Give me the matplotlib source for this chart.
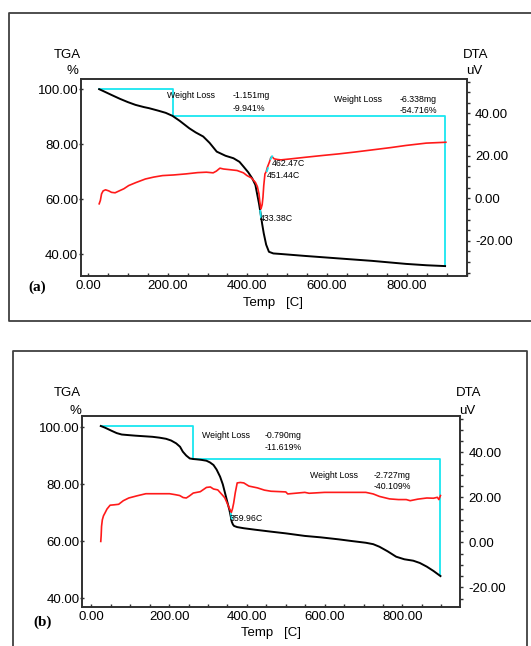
import matplotlib
matplotlib.use("Agg")
import matplotlib.pyplot as plt
from matplotlib.lines import Line2D
from matplotlib.ticker import MultipleLocator, FormatStrFormatter

plt.rcParams['font.family'] = ['Liberation Sans', 'DejaVu Sans']

W, H = 531, 646

# ---------------- data: panel (a) ----------------
tga_a_T = [28, 40, 59, 80, 100, 119, 140, 153, 176, 195, 212, 230, 254, 270, 289, 305, 323, 345,
           365, 380, 390, 402, 412, 420, 424, 429, 433, 437, 441, 447, 454, 465, 484, 544, 628,
           713, 798, 850, 896]
tga_a = [100, 99.2, 97.9, 96.5, 95.3, 94.3, 93.5, 93.1, 92.2, 91.4, 90.3, 88.5, 85.8, 84.3, 82.8,
         80.5, 77.3, 75.8, 74.9, 73.6, 71.9, 69.8, 67.6, 65.2, 62.2, 58.5, 54.9, 51.0, 47.6, 43.5,
         40.9, 40.3, 40.1, 39.4, 38.5, 37.6, 36.5, 36.0, 35.7]
dta_a_T = [28, 31, 34, 38, 44, 52, 59, 68, 76, 90, 102, 120, 144, 165, 187, 215, 246, 275, 297,
           314, 322, 331, 340, 355, 374, 390, 399, 410, 420, 425, 429, 431, 434, 437, 439, 441,
           444, 447, 450, 455, 459, 462, 467, 475, 484, 510, 544, 590, 628, 670, 713, 760, 798,
           849, 898]
dta_a = [-2.6, -1, 2.1, 3.5, 4.0, 3.5, 2.8, 2.6, 3.3, 4.5, 6.0, 7.4, 9.1, 10.0, 10.7, 11.0, 11.5,
         12.1, 12.3, 12.0, 12.8, 14.2, 13.8, 13.5, 13.1, 12.0, 10.7, 9.6, 7.5, 5.5, 2.1, -1.5,
         -5.0, -3.0, 0.5, 6.0, 11.5, 12.5, 14.6, 17.0, 19.3, 19.6, 18.6, 18.3, 18.1, 18.6, 19.3,
         20.2, 20.9, 21.8, 22.8, 23.9, 24.9, 26.0, 26.4]
step_a_T = [28, 214, 214, 896, 896]
step_a = [100.2, 100.2, 90.2, 90.2, 35.7]
loss_a = [("Weight Loss", "-1.151mg", "-9.941%"), ("Weight Loss", "-6.338mg", "-54.716%")]
peaks_a = ["462.47C", "451.44C", "433.38C"]

# ---------------- data: panel (b) ----------------
tga_b_T = [24, 35, 52, 65, 78, 95, 113, 135, 157, 175, 192, 205, 218, 228, 235, 244, 253, 262,
           270, 283, 296, 305, 314, 322, 331, 338, 344, 350, 355, 358, 361, 364, 367, 375, 392,
           420, 462, 500, 549, 590, 636, 670, 706, 725, 741, 762, 784, 805, 828, 845, 863, 880,
           898]
tga_b = [100.5, 99.9, 98.8, 98.0, 97.5, 97.3, 97.1, 96.9, 96.7, 96.4, 96.0, 95.4, 94.4, 93.2,
         91.5, 90.1, 89.1, 88.9, 88.8, 88.6, 88.3, 87.7, 86.8, 85.2, 82.7, 80.0, 76.8, 73.6, 71.0,
         69.0, 66.9, 65.9, 65.4, 65.0, 64.6, 64.1, 63.4, 62.8, 61.9, 61.4, 60.7, 60.1, 59.5, 59.0,
         58.1, 56.5, 54.6, 53.7, 53.2, 52.4, 51.1, 49.6, 47.8]
dta_b_T = [24, 25, 26, 28, 31, 35, 40, 48, 60, 70, 82, 96, 118, 140, 170, 201, 215, 227, 236,
           244, 252, 262, 280, 296, 306, 314, 325, 336, 343, 349, 355, 360, 363, 366, 370, 375,
           383, 392, 405, 427, 445, 462, 500, 505, 549, 560, 600, 636, 680, 706, 725, 741, 767,
           790, 810, 820, 840, 863, 880, 890, 894, 898]
dta_b = [0.4, 3.0, 7.1, 10.0, 11.8, 13.1, 14.8, 16.5, 16.7, 16.9, 18.5, 19.7, 20.7, 21.6, 21.6,
         21.6, 21.2, 20.8, 19.9, 19.7, 20.6, 21.9, 22.5, 24.4, 24.6, 23.7, 23.3, 21.2, 19.8, 17.5,
         15.0, 13.3, 15.0, 17.5, 22.0, 26.4, 26.6, 26.4, 25.0, 24.2, 23.2, 22.7, 22.4, 21.5, 22.2,
         21.8, 22.2, 22.2, 22.2, 22.2, 21.5, 20.4, 19.3, 19.0, 19.0, 18.5, 19.2, 19.7, 19.6, 20.0,
         19.0, 20.8]
step_b_T = [24, 261, 261, 896, 896]
step_b = [100.5, 100.5, 89.0, 89.0, 48.2]
loss_b = [("Weight Loss", "-0.790mg", "-11.619%"), ("Weight Loss", "-2.727mg", "-40.109%")]
peaks_b = ["359.96C"]

x_ticks = [0, 200, 400, 600, 800]
tga_ticks = [40, 60, 80, 100]
dta_ticks = [-20, 0, 20, 40]

fig = plt.figure(figsize=(W / 100, H / 100), dpi=100)
fig.patch.set_facecolor('white')


def fx(px):
    return px / W


def fy(py):
    return 1 - py / H


def ftext(px, py, s, size=6.3, ha='left', va='center', **kw):
    fig.text(fx(px), fy(py), s, fontsize=size, ha=ha, va=va, **kw)


def fline(xs, ys):
    fig.lines.append(Line2D([fx(v) for v in xs], [fy(v) for v in ys], transform=fig.transFigure,
                            color='#404040', lw=1.3))


# outer frames (open where the picture crops them)
fline([560, 9, 9, 560], [12.5, 12.5, 321, 321])
fline([12.5, 12.5, 526.7, 526.7], [700, 351.5, 351.5, 700])

spine_c = '#303030'


def make_axes(rect, xlim, ylim, y2lim):
    ax = fig.add_axes(rect)
    ax2 = ax.twinx()
    ax.set_xlim(*xlim)
    ax.set_ylim(*ylim)
    ax2.set_ylim(*y2lim)
    for a in (ax, ax2):
        for s in a.spines.values():
            s.set_color(spine_c)
            s.set_linewidth(1.2)
    ax.set_xticks(x_ticks)
    ax.xaxis.set_minor_locator(MultipleLocator(50))
    ax.xaxis.set_major_formatter(FormatStrFormatter('%.2f'))
    ax.set_yticks(tga_ticks)
    ax.yaxis.set_major_formatter(FormatStrFormatter('%.2f'))
    ax2.set_yticks(dta_ticks)
    ax2.yaxis.set_minor_locator(MultipleLocator(5))
    ax2.yaxis.set_major_formatter(FormatStrFormatter('%.2f'))
    ax.tick_params(axis='x', which='both', direction='in', length=2.5, width=1, color=spine_c,
                   labelsize=9.5, pad=3)
    ax.tick_params(axis='y', which='both', direction='inout', length=3, width=1, color=spine_c,
                   labelsize=9.5, pad=0.3)
    ax2.tick_params(axis='y', which='both', direction='out', length=2, width=1, color=spine_c,
                    labelsize=9.5, pad=4)
    return ax, ax2


# ---------------- panel (a) ----------------
ax, ax2 = make_axes([fx(80.6), fy(276), fx(466.6) - fx(80.6), fy(79) - fy(276)],
                    (-18.6, 950), (32.1, 103.7), (-36.6, 56.2))
ax.plot(step_a_T, step_a, color='#19e6f0', lw=1.3, zorder=2)
ax.plot(tga_a_T, tga_a, color='black', lw=1.4, zorder=3)
ax2.plot(dta_a_T, dta_a, color='#ff1a1a', lw=1.2, zorder=3)
ax2.plot([458, 462], [18.5, 19.8], color='#19e6f0', lw=1.3, zorder=4)
ax2.plot([449, 451.5], [12.8, 14.2], color='#19e6f0', lw=1.3, zorder=4)
ax.plot([432, 434], [55.8, 53.4], color='#19e6f0', lw=1.3, zorder=4)

ftext(67.7, 55, "TGA", size=9.5, ha='center')
ftext(72.8, 71, "%", size=9.5, ha='center')
ftext(475.8, 55, "DTA", size=9.5, ha='center')
ftext(474, 71, "uV", size=9.5, ha='center')
ftext(272.6, 303, "Temp   [C]", size=9.5, ha='center')
ftext(37.3, 287, "(a)", size=11, ha='center', family='Liberation Serif', weight='bold')
ftext(167, 95.7, loss_a[0][0])
ftext(232.6, 95.7, loss_a[0][1])
ftext(232.6, 108.3, loss_a[0][2])
ftext(334.2, 99, loss_a[1][0])
ftext(399.6, 99, loss_a[1][1])
ftext(399.6, 110.3, loss_a[1][2])
ftext(271.5, 163.3, peaks_a[0])
ftext(266.5, 175.7, peaks_a[1])
ftext(260.0, 218.3, peaks_a[2])

# ---------------- panel (b) ----------------
bx, bx2 = make_axes([fx(82), fy(606.7), fx(459.9) - fx(82), fy(416.3) - fy(606.7)],
                    (-24.3, 948), (37.05, 103.9), (-28.6, 56.0))
bx.plot(step_b_T, step_b, color='#19e6f0', lw=1.3, zorder=2)
bx.plot(tga_b_T, tga_b, color='black', lw=1.4, zorder=3)
bx2.plot(dta_b_T, dta_b, color='#ff1a1a', lw=1.2, zorder=3)
bx.plot([358.5, 361], [70.0, 68.0], color='#19e6f0', lw=1.3, zorder=4)

ftext(67.7, 393, "TGA", size=9.5, ha='center')
ftext(75.5, 411, "%", size=9.5, ha='center')
ftext(469, 393, "DTA", size=9.5, ha='center')
ftext(467.3, 411, "uV", size=9.5, ha='center')
ftext(271, 633, "Temp   [C]", size=9.5, ha='center')
ftext(43, 622, "(b)", size=11, ha='center', family='Liberation Serif', weight='bold')
ftext(201.5, 435.7, loss_b[0][0])
ftext(264.8, 435.7, loss_b[0][1])
ftext(264.8, 447.7, loss_b[0][2])
ftext(310.5, 475.7, loss_b[1][0])
ftext(373.5, 475.7, loss_b[1][1])
ftext(373.5, 486.7, loss_b[1][2])
ftext(229.5, 518.3, peaks_b[0])

fig.savefig("out.png", dpi=100, facecolor='white')
